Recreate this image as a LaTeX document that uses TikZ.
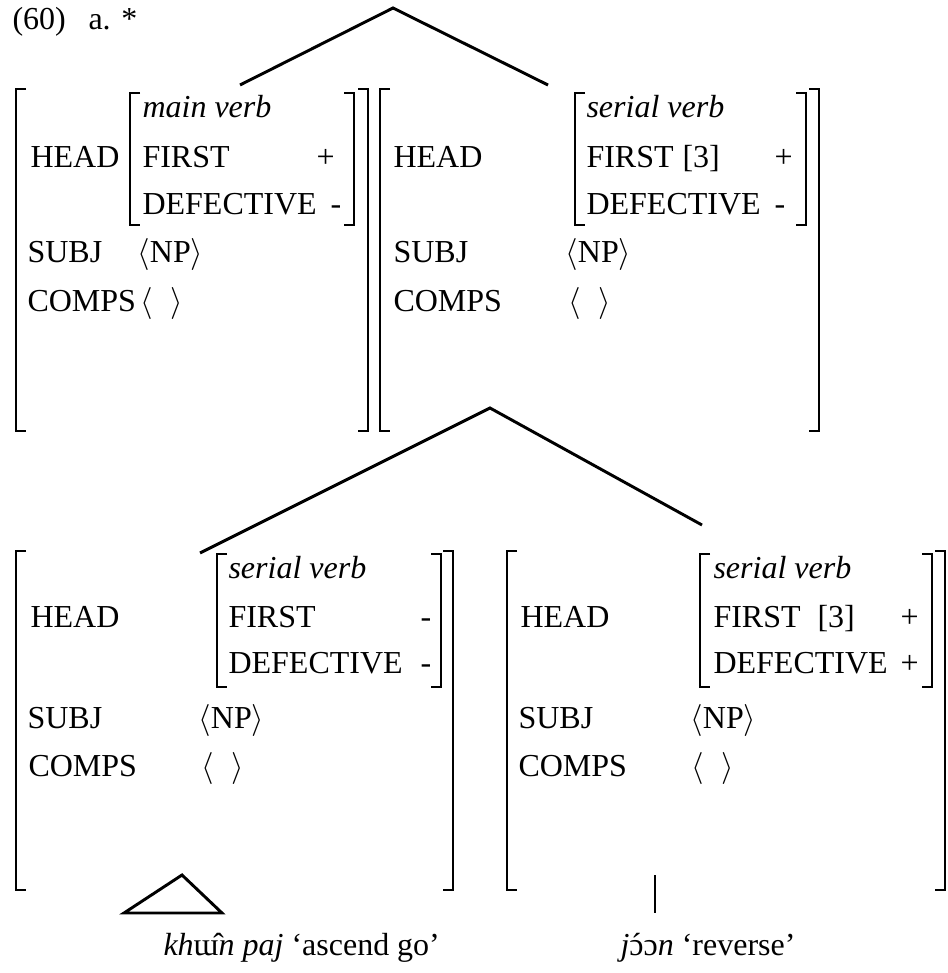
\documentclass[tikz,border=0pt]{standalone}
\usepackage{fontspec}
\setmainfont{Liberation Serif}

\begin{document}
\begin{tikzpicture}
[x=0.375pt,y=-0.375pt,
	 feat/.style={anchor=base west,inner sep=0pt,font=\fontsize{12}{14}\selectfont},
	 sort/.style={feat,font=\fontsize{12}{14}\selectfont\itshape},
	 brack/.style={line width=0.8pt},
	 branch/.style={line width=1.1pt}];
\useasboundingbox (0,0) rectangle (947,973);

\node[feat] (exnum) at (12,30) {(60)};
\node[feat] (exlab) at (88,30) {a. *};

% brackets: left ones, then right ones
\foreach \x/\t/\b in {16/89/431,130/93/225,380/89/431,575/93/225,16/551/890,217/554/687,507/551/890,700/554/687}
	\draw[brack] ({\x+10},\t) -- (\x,\t) -- (\x,\b) -- ({\x+10},\b);
\foreach \x/\t/\b in {368/89/431,354/93/225,819/89/431,806/93/225,453/551/890,441/554/687,945/551/890,932/554/687}
	\draw[brack] ({\x-10},\t) -- (\x,\t) -- (\x,\b) -- ({\x-10},\b);

% main verb
\node[feat] (headA) at (30,168) {HEAD};
\node[sort] (sortA) at (142,118) {main verb};
\node[feat] (firstA) at (142,168) {FIRST};
\node[feat] (firstvalA) at (316,168) {+};
\node[feat] (defA) at (142,215) {DEFECTIVE};
\node[feat] (defvalA) at (330,215) {-};
\node[feat] (subjA) at (27,263) {SUBJ};
\node[feat] (subjvalA) at (137,263) {$\langle$NP$\rangle$};
\node[feat] (compsA) at (27,311) {COMPS};
\node[feat] (compsvalA) at (140,311) {$\langle\;\;\rangle$};

% serial verb (mother)
\node[feat] (headB) at (393,168) {HEAD};
\node[sort] (sortB) at (586,118) {serial verb};
\node[feat] (firstB) at (586,168) {FIRST};
\node[feat] (tagB) at (682,168) {[3]};
\node[feat] (firstvalB) at (774,168) {+};
\node[feat] (defB) at (586,215) {DEFECTIVE};
\node[feat] (defvalB) at (774,215) {-};
\node[feat] (subjB) at (393,263) {SUBJ};
\node[feat] (subjvalB) at (565,263) {$\langle$NP$\rangle$};
\node[feat] (compsB) at (393,311) {COMPS};
\node[feat] (compsvalB) at (568,311) {$\langle\;\;\rangle$};

% khun paj
\node[feat] (headC) at (30,627) {HEAD};
\node[sort] (sortC) at (228,578) {serial verb};
\node[feat] (firstC) at (228,627) {FIRST};
\node[feat] (firstvalC) at (420,627) {-};
\node[feat] (defC) at (228,673) {DEFECTIVE};
\node[feat] (defvalC) at (420,673) {-};
\node[feat] (subjC) at (27,728) {SUBJ};
\node[feat] (subjvalC) at (198,728) {$\langle$NP$\rangle$};
\node[feat] (compsC) at (28,776) {COMPS};
\node[feat] (compsvalC) at (201,776) {$\langle\;\;\rangle$};

% joon
\node[feat] (headD) at (520,627) {HEAD};
\node[sort] (sortD) at (713,578) {serial verb};
\node[feat] (firstD) at (713,627) {FIRST};
\node[feat] (tagD) at (817,627) {[3]};
\node[feat] (firstvalD) at (900,627) {+};
\node[feat] (defD) at (713,673) {DEFECTIVE};
\node[feat] (defvalD) at (900,673) {+};
\node[feat] (subjD) at (518,728) {SUBJ};
\node[feat] (subjvalD) at (690,728) {$\langle$NP$\rangle$};
\node[feat] (compsD) at (518,776) {COMPS};
\node[feat] (compsvalD) at (691,776) {$\langle\;\;\rangle$};

% words
\node[feat] (khunword) at (163,955) {\textit{kh}ɯ̂\textit{n paj} `ascend go'};
\node[feat] (joonword) at (620,955) {\textit{j}{\accent"00B4 ɔ}ɔ\textit{n} `reverse'};

% branches
\coordinate (rootS) at (393,8);
\coordinate (mainV) at (240,85);
\coordinate (serV) at (548,85);
\coordinate (rootV) at (490,408);
\coordinate (khunV) at (200,553);
\coordinate (joonV) at (702,525);
\draw[branch] (mainV) -- (rootS) -- (serV);
\draw[branch] (khunV) -- (rootV) -- (joonV);

\coordinate (roof) at (182,875);
\coordinate (roofL) at (124,913);
\coordinate (roofR) at (222,913);
\draw[branch] (roof) -- (roofL) -- (roofR) -- cycle;
\coordinate (stemT) at (655,875);
\coordinate (stemB) at (655,913);
\draw[branch] (stemT) -- (stemB);

\end{tikzpicture}
\end{document}
